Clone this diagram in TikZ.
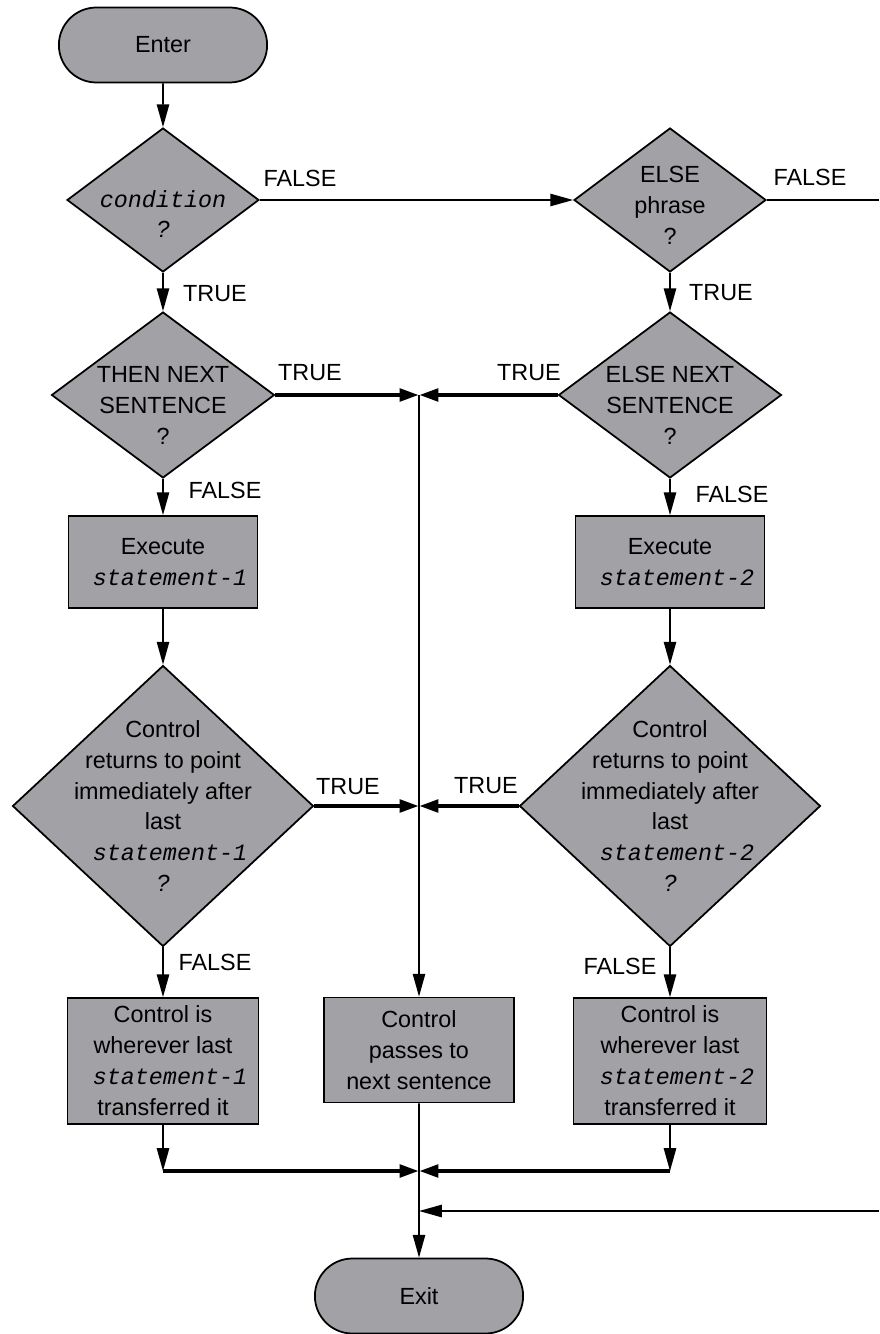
\documentclass[tikz,border=0pt]{standalone}
\usepackage{fontspec}
\setmainfont{Liberation Sans}
\newfontfamily\codefont{Liberation Mono}
\newcommand{\codeit}[1]{{\codefont\itshape #1}}
\usetikzlibrary{shapes.geometric,shapes.misc,arrows.meta}
\definecolor{boxgray}{RGB}{161,161,166}

\begin{document}
\begin{tikzpicture}
[x=0.02cm,y=-0.02cm,%
  every node/.style={font=\fontsize{13.3}{17.6}\selectfont},%
  terminal/.style={rounded rectangle,draw,line width=1pt,fill=boxgray,%
    minimum width=4.4cm,minimum height=1.5cm},%
  decision/.style={diamond,draw,line width=1pt,fill=boxgray,inner sep=0pt},%
  process/.style={rectangle,draw,line width=1pt,fill=boxgray,align=center,inner sep=0pt},%
  txt/.style={align=center},%
  flow/.style={line width=1pt,-{Triangle[length=13pt,width=7pt]}},%
  mergeline/.style={line width=2.4pt,-{Triangle[length=11pt,width=7pt]}}]
\useasboundingbox (0,0) rectangle (879,1334);

% terminals
\node[terminal] (enter) at (163,45) {Enter};
\node[terminal] (exit) at (419,1296) {Exit};

% tests
\node[decision,minimum width=3.84cm,minimum height=2.88cm,%
  label={[txt,yshift=-8pt]center:{\codeit{condition}\\\textit{?}}}] (cond) at (163,200) {};
\node[decision,minimum width=3.84cm,minimum height=2.88cm,%
  label={[txt,yshift=-3pt]center:{ELSE\\phrase\\?}}] (elsep) at (670,200) {};
\node[decision,minimum width=4.46cm,minimum height=3.32cm,%
  label={[txt,yshift=-6pt]center:{THEN NEXT\\SENTENCE\\?}}] (thenns) at (163,395) {};
\node[decision,minimum width=4.46cm,minimum height=3.32cm,%
  label={[txt,yshift=-6pt]center:{ELSE NEXT\\SENTENCE\\?}}] (elsens) at (670,395) {};
\node[decision,minimum width=6.02cm,minimum height=5.62cm,%
  label={[txt]center:{Control\\returns to point\\immediately after\\last\\\codeit{~statement-1}\\\textit{?}}}] (back1) at (163,806) {};
\node[decision,minimum width=6.02cm,minimum height=5.62cm,%
  label={[txt]center:{Control\\returns to point\\immediately after\\last\\\codeit{~statement-2}\\\textit{?}}}] (back2) at (670,806) {};

% actions
\node[process,minimum width=3.78cm,minimum height=1.84cm] (exec1) at (163,562)
  {Execute\\\codeit{~statement-1}};
\node[process,minimum width=3.78cm,minimum height=1.84cm] (exec2) at (670,562)
  {Execute\\\codeit{~statement-2}};
\node[process,minimum width=3.82cm,minimum height=2.52cm] (where1) at (163,1061)
  {Control is\\wherever last\\\codeit{~statement-1}\\transferred it};
\node[process,minimum width=3.8cm,minimum height=2.1cm] (passes) at (419,1050)
  {Control\\passes to\\next sentence};
\node[process,minimum width=3.86cm,minimum height=2.52cm] (where2) at (670,1061)
  {Control is\\wherever last\\\codeit{~statement-2}\\transferred it};

% meeting points
\coordinate (j1) at (419,395);
\coordinate (j2) at (419,806);
\coordinate (j3) at (419,1171);
\coordinate (j4) at (419,1211);
\coordinate (k1) at (163,1171);
\coordinate (k2) at (670,1171);
\coordinate (out1) at (879,200);
\coordinate (in1) at (879,1211);

% flow
\draw[flow] (enter) -- (cond);
\draw[flow] (cond) -- (elsep);
\draw[line width=1pt] (elsep) -- (out1);
\draw[flow] (cond) -- (thenns);
\draw[flow] (elsep) -- (elsens);
\draw[mergeline] (thenns) -- (j1);
\draw[mergeline] (elsens) -- (j1);
\draw[flow] (j1) -- (passes);
\draw[flow] (thenns) -- (exec1);
\draw[flow] (elsens) -- (exec2);
\draw[flow] (exec1) -- (back1);
\draw[flow] (exec2) -- (back2);
\draw[mergeline] (back1) -- (j2);
\draw[mergeline] (back2) -- (j2);
\draw[flow] (back1) -- (where1);
\draw[flow] (back2) -- (where2);
\draw[flow] (where1) -- (k1);
\draw[flow] (where2) -- (k2);
\draw[mergeline] (k1) -- (j3);
\draw[mergeline] (k2) -- (j3);
\draw[flow] (passes) -- (exit);
\draw[flow] (in1) -- (j4);

% branch labels
\node (f1) at (300,178) {FALSE};
\node (f2) at (810,177) {FALSE};
\node (t1) at (215,294) {TRUE};
\node (t2) at (721,293) {TRUE};
\node (t3) at (310,373) {TRUE};
\node (t4) at (529,373) {TRUE};
\node (f3) at (225,490) {FALSE};
\node (f4) at (732,494) {FALSE};
\node (t5) at (348,787) {TRUE};
\node (t6) at (486,786) {TRUE};
\node (f5) at (215,962) {FALSE};
\node (f6) at (620,966) {FALSE};
\end{tikzpicture}
\end{document}
